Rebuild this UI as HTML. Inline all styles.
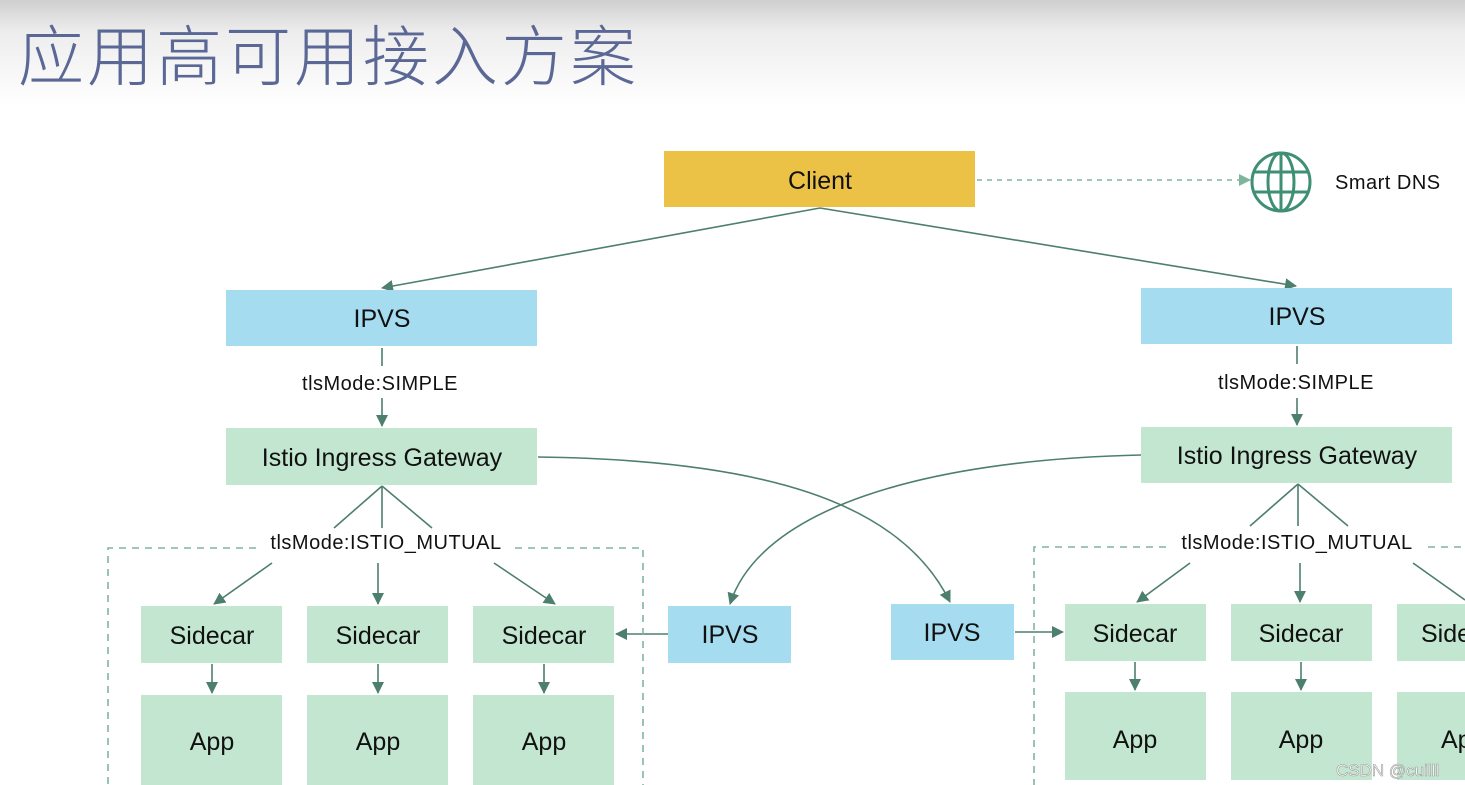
<!DOCTYPE html>
<html><head><meta charset="utf-8"><style>
body{margin:0;width:1465px;height:785px;overflow:hidden;background:#fff;}
svg{display:block;font-family:"Liberation Sans",Arial,sans-serif;}
</style></head><body>
<svg width="1465" height="785" viewBox="0 0 1465 785">
<defs>
<linearGradient id="g" x1="0" y1="0" x2="0" y2="1"><stop offset="0" stop-color="#cfcfcf"/><stop offset="0.3" stop-color="#ededed"/><stop offset="1" stop-color="#fff"/></linearGradient>
<marker id="a" markerWidth="12" markerHeight="12" refX="11" refY="6" orient="auto" markerUnits="userSpaceOnUse"><path d="M0,0 L12,6 L0,12 z" fill="#4d7f6e"/></marker>
<marker id="b" markerWidth="12" markerHeight="12" refX="11" refY="6" orient="auto" markerUnits="userSpaceOnUse"><path d="M0,0 L12,6 L0,12 z" fill="#7fb59c"/></marker>
</defs>
<rect width="1465" height="105" fill="url(#g)"/>
<text x="18" y="80" font-size="66" letter-spacing="3" font-weight="300" fill="#5b6896" font-family="'Noto Sans CJK SC','Liberation Sans',sans-serif">应用高可用接入方案</text>

<g fill="none" stroke="#4d7f6e" stroke-width="1.6">
<line x1="820" y1="208" x2="382" y2="288" marker-end="url(#a)"/>
<line x1="820" y1="208" x2="1296" y2="286" marker-end="url(#a)"/>
<line x1="382" y1="348" x2="382" y2="366"/>
<line x1="382" y1="398" x2="382" y2="426" marker-end="url(#a)"/>
<line x1="1297" y1="346" x2="1297" y2="364"/>
<line x1="1297" y1="398" x2="1297" y2="425" marker-end="url(#a)"/>
<line x1="382" y1="486" x2="334" y2="528"/><line x1="382" y1="486" x2="382" y2="528"/><line x1="382" y1="486" x2="432" y2="528"/>
<line x1="1298" y1="484" x2="1250" y2="526"/><line x1="1298" y1="484" x2="1298" y2="526"/><line x1="1298" y1="484" x2="1348" y2="526"/>
<line x1="272" y1="563" x2="214" y2="604" marker-end="url(#a)"/>
<line x1="378" y1="563" x2="378" y2="604" marker-end="url(#a)"/>
<line x1="494" y1="563" x2="555" y2="604" marker-end="url(#a)"/>
<line x1="1190" y1="563" x2="1137" y2="602" marker-end="url(#a)"/>
<line x1="1300" y1="563" x2="1300" y2="602" marker-end="url(#a)"/>
<line x1="1413" y1="563" x2="1465" y2="600"/>
<line x1="212" y1="664" x2="212" y2="693" marker-end="url(#a)"/>
<line x1="378" y1="664" x2="378" y2="693" marker-end="url(#a)"/>
<line x1="544" y1="664" x2="544" y2="693" marker-end="url(#a)"/>
<line x1="1135" y1="662" x2="1135" y2="690" marker-end="url(#a)"/>
<line x1="1301" y1="662" x2="1301" y2="690" marker-end="url(#a)"/>
<line x1="668" y1="634" x2="616" y2="634" marker-end="url(#a)"/>
<line x1="1015" y1="632" x2="1063" y2="632" marker-end="url(#a)"/>
<path d="M538,457 C760,460 900,500 950,602" marker-end="url(#a)"/>
<path d="M1141,455 C920,460 760,510 730,604" marker-end="url(#a)"/>
</g>
<line x1="977" y1="180" x2="1250" y2="180" stroke="#7fb59c" stroke-width="1.5" stroke-dasharray="5,5" marker-end="url(#b)"/>
<g fill="none" stroke="#7fb59c" stroke-width="1.6" stroke-dasharray="7,6">
<path d="M256,548 H108 V785 M515,548 H643 V785"/>
<path d="M1166,547 H1034 V785 M1428,547 H1465"/>
</g>
<g stroke="#3e8f73" stroke-width="3" fill="none">
<circle cx="1281" cy="182" r="29"/>
<ellipse cx="1281" cy="182" rx="13" ry="29"/>
<line x1="1281" y1="153" x2="1281" y2="211"/>
<line x1="1253" y1="172" x2="1309" y2="172"/><line x1="1253" y1="192" x2="1309" y2="192"/>
</g>
<text x="1335" y="189" font-size="20" letter-spacing="0.5" fill="#111">Smart DNS</text>

<rect x="664" y="151" width="311" height="56" fill="#ecc246"/>
<rect x="226" y="290" width="311" height="56" fill="#a5dcf0"/>
<rect x="1141" y="288" width="311" height="56" fill="#a5dcf0"/>
<rect x="226" y="428" width="311" height="57" fill="#c2e6cf"/>
<rect x="1141" y="427" width="311" height="56" fill="#c2e6cf"/>
<rect x="668" y="606" width="123" height="57" fill="#a5dcf0"/>
<rect x="891" y="604" width="123" height="56" fill="#a5dcf0"/>
<g fill="#c2e6cf">
<rect x="141" y="606" width="141" height="57"/><rect x="307" y="606" width="141" height="57"/><rect x="473" y="606" width="141" height="57"/>
<rect x="141" y="695" width="141" height="90"/><rect x="307" y="695" width="141" height="90"/><rect x="473" y="695" width="141" height="90"/>
<rect x="1065" y="604" width="141" height="57"/><rect x="1231" y="604" width="141" height="57"/><rect x="1397" y="604" width="68" height="57"/>
<rect x="1065" y="692" width="141" height="88"/><rect x="1231" y="692" width="141" height="88"/><rect x="1397" y="692" width="68" height="88"/>
</g>
<g font-size="25" fill="#111" text-anchor="middle">
<text x="820" y="189">Client</text>
<text x="382" y="327">IPVS</text><text x="1297" y="325">IPVS</text>
<text x="382" y="466">Istio Ingress Gateway</text><text x="1297" y="464">Istio Ingress Gateway</text>
<text x="730" y="643">IPVS</text><text x="952" y="641">IPVS</text>
<text x="212" y="644">Sidecar</text><text x="378" y="644">Sidecar</text><text x="544" y="644">Sidecar</text>
<text x="1135" y="642">Sidecar</text><text x="1301" y="642">Sidecar</text><text x="1421" y="642" text-anchor="start">Sidecar</text>
<text x="212" y="750">App</text><text x="378" y="750">App</text><text x="544" y="750">App</text>
<text x="1135" y="748">App</text><text x="1301" y="748">App</text><text x="1441" y="748" text-anchor="start">App</text>
</g>
<g font-size="20" fill="#111" text-anchor="middle" letter-spacing="0.5">
<text x="380" y="390">tlsMode:SIMPLE</text><text x="1296" y="389">tlsMode:SIMPLE</text>
<text x="386" y="549">tlsMode:ISTIO_MUTUAL</text><text x="1297" y="549">tlsMode:ISTIO_MUTUAL</text>
</g>
<text x="1336" y="776" font-size="17" fill="#fff" stroke="#999" stroke-width="0.6">CSDN @cuilll</text>
</svg>
</body></html>
